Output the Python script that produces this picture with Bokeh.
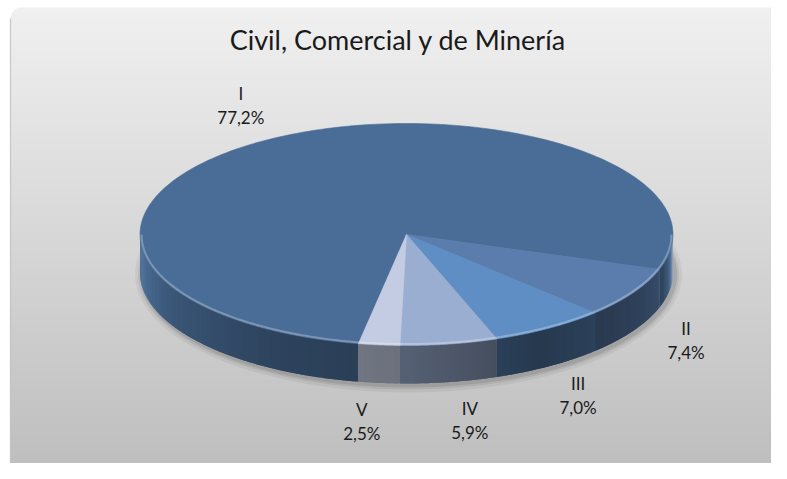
import numpy as np
from bokeh.plotting import figure
from bokeh.models import Range1d
from bokeh.embed import file_html
from bokeh.resources import INLINE
from bokeh.core.properties import value

# ---------------- data ----------------
title_text = "Civil, Comercial  y de Minería"
categories = ["I", "II", "III", "IV", "V"]
shares = [77.2, 7.4, 7.0, 5.9, 2.5]
share_labels = ["77,2%", "7,4%", "7,0%", "5,9%", "2,5%"]
top_colors = ["#4A6D97", "#5A7DAD", "#5F8EC4", "#9AAED2", "#C3CCE2"]

# ---------------- layout ----------------
W, H = 771, 463
p = figure(width=W, height=H, x_range=Range1d(0, W), y_range=Range1d(H, 0),
           output_backend="svg", toolbar_location=None, min_border=0,
           x_axis_location=None, y_axis_location=None)
p.grid.visible = False
p.outline_line_color = None
p.background_fill_color = "white"
p.border_fill_color = "white"


def hexc(rgb):
    r, g, b = [int(max(0, min(255, round(v)))) for v in rgb]
    return "#%02x%02x%02x" % (r, g, b)


def to_rgb(h):
    h = h.lstrip("#")
    return np.array([int(h[i:i + 2], 16) for i in (0, 2, 4)], dtype=float)


# ---------------- background panel (vertical gradient, rounded corner) ----------------
PX0, PY0, PX1, PY1, PR = 10, 7, W, H, 11
rows = np.arange(PY0, PY1, 1.0)
t = (rows - PY0) / (475 - PY0)
c_top, c_bot = np.array([240, 240, 240.0]), np.array([189, 189, 189.0])
row_cols = [hexc(c_top + (c_bot - c_top) * tt) for tt in t]
dy = rows + 0.5 - PY0
lefts = PX0 + np.where(dy < PR, PR - np.sqrt(np.clip(PR ** 2 - (PR - dy) ** 2, 0, None)), 0)
p.quad(left=lefts, right=PX1, top=rows, bottom=rows + 1.6, fill_color=row_cols, line_color=None)
p.line([PX0, PX0], [PY0 + PR, PY1], line_color="#BDBDBD", line_width=1.2, line_alpha=0.8)

# ---------------- pie geometry ----------------
cx, cy, rx, ry, depth = 406.0, 234.0, 266.5, 111.0, 38.0
start_deg = 100.4
vals = np.array(shares, dtype=float)
bounds = start_deg + 360.0 * np.concatenate([[0], np.cumsum(vals) / vals.sum()])

# drop shadow
for grow, alpha in [(7, 0.05), (4, 0.07), (2, 0.09)]:
    p.ellipse(x=[cx + 2], y=[cy + depth + 2], width=[2 * rx + 2 * grow], height=[2 * ry + 2 * grow],
              fill_color="#000000", fill_alpha=alpha, line_color=None)

shade_k = [0, 5, 10, 16, 30, 60, 90, 120, 150, 172, 180]
shade_f = [1.65, 1.25, 0.85, 0.62, 0.52, 0.40, 0.55, 0.62, 0.78, 1.0, 0.95]


def side_color(base, theta):
    f = np.interp(theta, shade_k, shade_f)
    b = to_rgb(base)
    if f > 1:
        return hexc(b + (255 - b) * (f - 1))
    return hexc(b * f)


side_xs, side_ys, side_cols = [], [], []
step = 0.5
for i in range(len(vals)):
    a0, a1 = bounds[i], bounds[i + 1]
    n = max(2, int(np.ceil((a1 - a0) / step)))
    edges = np.linspace(a0, a1, n + 1)
    for k, (s, e) in enumerate(zip(edges[:-1], edges[1:])):
        mid = ((s + e) / 2) % 360
        if not (0 < mid < 180):
            continue
        half = (e - s) / 2
        sm = max(mid - half, 0.0)
        em = min(mid + half + (0.4 if k < n - 1 else 0.0), 180.0)
        th = np.radians(np.linspace(sm, em, 3))
        xt = cx + rx * np.cos(th)
        yt = cy + ry * np.sin(th)
        side_xs.append(list(xt) + list(xt[::-1]))
        side_ys.append(list(yt) + list((yt + depth)[::-1]))
        side_cols.append(side_color(top_colors[i], mid))
p.patches(xs=side_xs, ys=side_ys, fill_color=side_cols, line_color=None)

# top faces
top_xs, top_ys = [], []
for i in range(len(vals)):
    th = np.radians(np.linspace(bounds[i], bounds[i + 1], 200))
    top_xs.append([cx] + list(cx + rx * np.cos(th)))
    top_ys.append([cy] + list(cy + ry * np.sin(th)))
p.patches(xs=top_xs, ys=top_ys, fill_color=top_colors, line_color=top_colors, line_width=0.6)

# rim highlight
th = np.radians(np.linspace(0, 180, 300))
p.line(cx + (rx - 1.5) * np.cos(th), cy + (ry - 1.5) * np.sin(th), line_color="white",
       line_alpha=0.28, line_width=2)

# ---------------- labels ----------------
mids = np.radians((bounds[:-1] + bounds[1:]) / 2)
sinm = np.sin(mids)
lx = cx + rx * 1.22 * np.cos(mids)
ly = cy + ry * 1.35 * sinm + depth * np.sqrt(np.clip(sinm, 0, None))
# spread neighbouring lower labels apart so they do not crowd
lower = [i for i in np.argsort(lx) if sinm[i] > 0]
gap = 108.0
for _ in range(20):
    for a, b in zip(lower[:-1], lower[1:]):
        d = lx[b] - lx[a]
        if d < gap:
            push = (gap - d) / 2
            lx[a] -= push
            lx[b] += push

p.text(x=lx, y=ly - 12, text=categories, text_align="center", text_baseline="middle",
       text_font=value("Lato"), text_font_size="17px", text_color="#1A1A1A")
p.text(x=lx, y=ly + 12, text=share_labels, text_align="center", text_baseline="middle",
       text_font=value("Lato"), text_font_size="17px", text_color="#1A1A1A")

# title
p.text(x=[401], y=[39], text=[title_text], text_align="center", text_baseline="middle",
       text_font=value("Lato"), text_font_size="27px", text_color="#1A1A1A")

open("out.html", "w").write(file_html(p, INLINE))
